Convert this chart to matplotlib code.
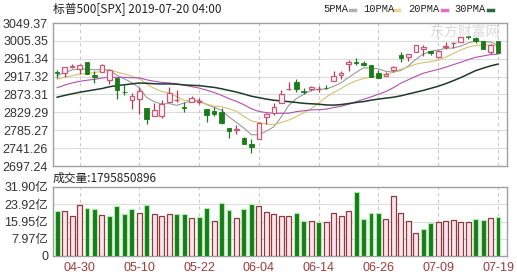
import matplotlib
matplotlib.use("Agg")
import matplotlib.pyplot as plt
import numpy as np

plt.rcParams['font.family'] = ['Liberation Sans', 'Noto Sans CJK SC', 'DejaVu Sans']

dates = ["04-25","04-26","04-29","04-30","05-01","05-02","05-03","05-06","05-07","05-08",
         "05-09","05-10","05-13","05-14","05-15","05-16","05-17","05-20","05-21","05-22",
         "05-23","05-24","05-28","05-29","05-30","05-31","06-03","06-04","06-05","06-06",
         "06-07","06-10","06-11","06-12","06-13","06-14","06-17","06-18","06-19","06-20",
         "06-21","06-24","06-25","06-26","06-27","06-28","07-01","07-02","07-03","07-05",
         "07-08","07-09","07-10","07-11","07-12","07-15","07-16","07-17","07-18","07-19"]
opens = [2928.99,2925.81,2940.58,2937.14,2952.33,2922.16,2929.21,2908.89,2913.03,2879.61,
         2859.84,2863.10,2840.19,2820.12,2820.38,2855.80,2858.60,2841.94,2854.02,2856.06,
         2836.70,2832.41,2830.03,2790.25,2786.94,2766.15,2751.53,2762.64,2818.09,2828.51,
         2852.87,2885.83,2903.27,2882.73,2886.24,2886.82,2889.75,2906.71,2920.55,2949.60,
         2952.71,2951.42,2945.78,2926.07,2919.66,2932.94,2971.41,2964.66,2978.08,2984.25,
         2979.77,2965.52,2989.30,2999.62,3003.36,3017.80,3012.13,3005.10,2978.87,3004.26]
highs = [2933.10,2939.88,2949.52,2948.22,2954.13,2931.68,2947.85,2937.32,2913.03,2897.96,
         2875.97,2891.31,2840.19,2852.54,2858.68,2892.15,2885.48,2853.86,2868.88,2865.47,
         2836.70,2841.36,2840.51,2792.03,2799.00,2768.98,2763.07,2804.49,2827.28,2852.10,
         2884.97,2904.77,2910.61,2888.57,2895.24,2894.45,2897.27,2930.79,2931.74,2958.06,
         2964.15,2954.92,2946.52,2932.59,2929.30,2943.98,2977.93,2973.21,2995.84,2994.03,
         2980.76,2981.90,3002.98,3002.33,3013.92,3017.80,3015.02,3005.26,2998.28,3006.02]
lows = [2912.84,2917.56,2939.35,2924.11,2923.36,2900.50,2929.21,2898.21,2862.60,2873.28,
        2836.40,2825.39,2801.43,2820.12,2815.08,2855.80,2854.23,2831.29,2854.02,2851.11,
        2805.49,2820.19,2801.58,2766.06,2776.74,2750.52,2728.81,2762.64,2800.92,2822.45,
        2852.87,2885.51,2878.53,2874.68,2881.99,2879.62,2886.26,2905.44,2911.43,2931.50,
        2946.87,2944.05,2916.01,2912.99,2918.57,2929.05,2952.22,2955.92,2977.96,2967.97,
        2970.09,2963.44,2984.62,2988.80,3001.87,3008.77,3001.15,2984.25,2973.09,2975.86]
closes = [2926.17,2939.88,2943.03,2945.83,2923.73,2917.52,2945.64,2932.47,2884.05,2879.42,
          2870.72,2881.40,2811.87,2834.41,2850.96,2876.32,2859.53,2840.23,2864.36,2856.27,
          2822.24,2826.06,2802.39,2783.02,2788.86,2752.06,2744.45,2803.27,2826.15,2843.49,
          2873.34,2886.73,2885.72,2879.84,2891.64,2886.98,2889.67,2917.75,2926.46,2954.18,
          2950.46,2945.35,2917.38,2913.78,2924.92,2941.76,2964.33,2973.01,2995.82,2990.41,
          2975.95,2979.63,2993.07,2999.91,3013.77,3014.30,3004.04,2984.42,2995.11,2976.61]
# closes of the 29 sessions before the first shown bar (needed for the moving averages)
prior_closes = [2808.48,2822.48,2832.94,2832.57,2824.23,2854.88,2800.71,2798.36,2818.46,2805.37,
                2815.44,2834.40,2867.19,2867.24,2873.40,2879.39,2892.74,2895.77,2878.20,2888.21,
                2888.32,2907.41,2905.58,2907.06,2900.45,2905.03,2907.97,2933.68,2927.25]
# volume in 亿 (1e8)
volumes = [20.9,20.9,18.6,23.7,22.3,21.5,19.0,18.6,22.9,19.2,
           21.5,20.0,23.7,19.5,18.6,19.5,19.2,19.2,17.5,18.1,
           22.3,16.3,24.6,21.4,17.5,21.8,24.2,23.2,20.3,19.5,
           18.6,18.6,20.0,16.3,16.3,15.5,15.8,20.0,18.6,20.9,
           29.7,17.2,20.0,20.0,17.2,27.9,20.0,16.3,10.7,12.5,
           15.3,15.8,16.3,16.7,15.8,15.8,17.2,16.7,17.7,17.96]
price_ticks = [2697.24, 2741.26, 2785.27, 2829.29, 2873.31, 2917.32, 2961.34, 3005.35, 3049.37]
vol_ticks = [0, 7.97, 15.95, 23.92, 31.90]
vol_tick_labels = ["0", "7.97亿", "15.95亿", "23.92亿", "31.90亿"]
date_labels = ["04-30", "05-10", "05-22", "06-04", "06-14", "06-26", "07-09", "07-19"]
ma_periods = [5, 10, 20, 30]
ma_names = ["5PMA", "10PMA", "20PMA", "30PMA"]
ma_colors = ["#9a9a9a", "#d8c070", "#b050b0", "#1e3a2a"]
ma_legend_colors = ["#b0b0b0", "#e8d890", "#e070c0", "#2a6a3a"]
title = "标普500[SPX] 2019-07-20 04:00"
vol_title = "成交量:1795850896"

W, H = 517, 275
fig = plt.figure(figsize=(W/100, H/100), dpi=100)
fig.patch.set_facecolor("white")

def fx(px): return px / W
def fy(py): return 1 - py / H

axp = fig.add_axes([fx(53), fy(166), fx(507-53), (166-23)/H])
axv = fig.add_axes([fx(53), fy(256), fx(507-53), (256-187)/H])

n = len(dates)
x = np.arange(n)
o = np.array(opens); h = np.array(highs); l = np.array(lows); c = np.array(closes)
up = c >= o
full = np.array(prior_closes + closes)

GREEN = "#1b7a1b"
RED_EDGE = "#c85a78"
xl = (-0.55, 60.2)

# grid
for ax in (axp, axv):
    ax.set_xlim(*xl)
    for s in ax.spines.values():
        s.set_color("#a0a0a0")
        s.set_linewidth(1.0)
    ax.tick_params(axis="both", length=0, colors="#333333", labelsize=9)

tick_pos = [dates.index(d) for d in date_labels]

axp.set_ylim(price_ticks[0], price_ticks[-1])
axp.set_yticks(price_ticks)
axp.set_yticklabels(["%.2f" % t for t in price_ticks])
for t in price_ticks[1:-1]:
    axp.axhline(t, color="#dcdcdc", lw=0.8, zorder=0)
for p in tick_pos:
    axp.axvline(p, color="#c8c8c8", lw=0.8, ls=(0, (3, 3)), zorder=0)
axp.set_xticks([])

# moving averages
for per, col in zip(ma_periods, ma_colors):
    ma = np.convolve(full, np.ones(per) / per, mode="valid")[-n:]
    lw = 1.1 if per == 30 else 0.8
    axp.plot(x, ma, color=col, lw=lw, zorder=2)

# candles
wick_cols = [("#b03a50" if u else GREEN) for u in up]
axp.vlines(x, l, h, colors=wick_cols, lw=0.9, zorder=3)
bw = 0.62
body_lo = np.minimum(o, c)
body_h = np.maximum(np.abs(c - o), 0.4)
axp.bar(x[up], body_h[up], bottom=body_lo[up], width=bw, facecolor="#fff4f6",
        edgecolor=RED_EDGE, linewidth=0.9, zorder=4)
axp.bar(x[~up], body_h[~up], bottom=body_lo[~up], width=bw, facecolor=GREEN,
        edgecolor=GREEN, linewidth=0.6, zorder=4)

# volume
prev = np.concatenate([[prior_closes[-1]], c[:-1]])
vup = c >= prev
v = np.array(volumes)
axv.set_ylim(0, vol_ticks[-1])
axv.set_yticks(vol_ticks)
axv.set_yticklabels(vol_tick_labels)
for t in vol_ticks[1:-1]:
    axv.axhline(t, color="#dcdcdc", lw=0.8, zorder=0)
for p in tick_pos:
    axv.axvline(p, color="#c8c8c8", lw=0.8, ls=(0, (3, 3)), zorder=0)
axv.bar(x[vup], v[vup], width=0.66, facecolor="#ffe6e8", edgecolor="#8e3a44",
        linewidth=0.9, zorder=3)
axv.bar(x[~vup], v[~vup], width=0.66, facecolor=GREEN, edgecolor="#a8f0a8",
        linewidth=0.8, zorder=3)
axv.set_xticks(tick_pos)
axv.set_xticklabels(date_labels, color="#a03a3a", fontsize=9)
axv.tick_params(axis="x", pad=4)

# texts
cjk = ["Noto Sans CJK SC", "DejaVu Sans"]
fig.text(fx(53), fy(9), title, family=cjk, fontsize=8.5, color="#222222", va="center", ha="left")
fig.text(fx(53), fy(178), vol_title, family=cjk, fontsize=8.5, color="#222222", va="center", ha="left")

leg_x = [323, 363, 408, 454]
dash_x = [350, 394, 442, 488]
for name, col, tx, dx in zip(ma_names, ma_legend_colors, leg_x, dash_x):
    fig.text(fx(tx), fy(9), name, family=["Liberation Mono", "DejaVu Sans Mono"], fontsize=7.5,
             color="#222222", va="center", ha="left")
    fig.add_artist(plt.Line2D([fx(dx), fx(dx + 5)], [fy(9.5), fy(9.5)], color=col, lw=2.5))

fig.text(fx(465), fy(32), "东方财富网", family=cjk, fontsize=10, color="#d0d0d0",
         va="center", ha="center", alpha=0.8)

fig.savefig("out.png", dpi=100)
